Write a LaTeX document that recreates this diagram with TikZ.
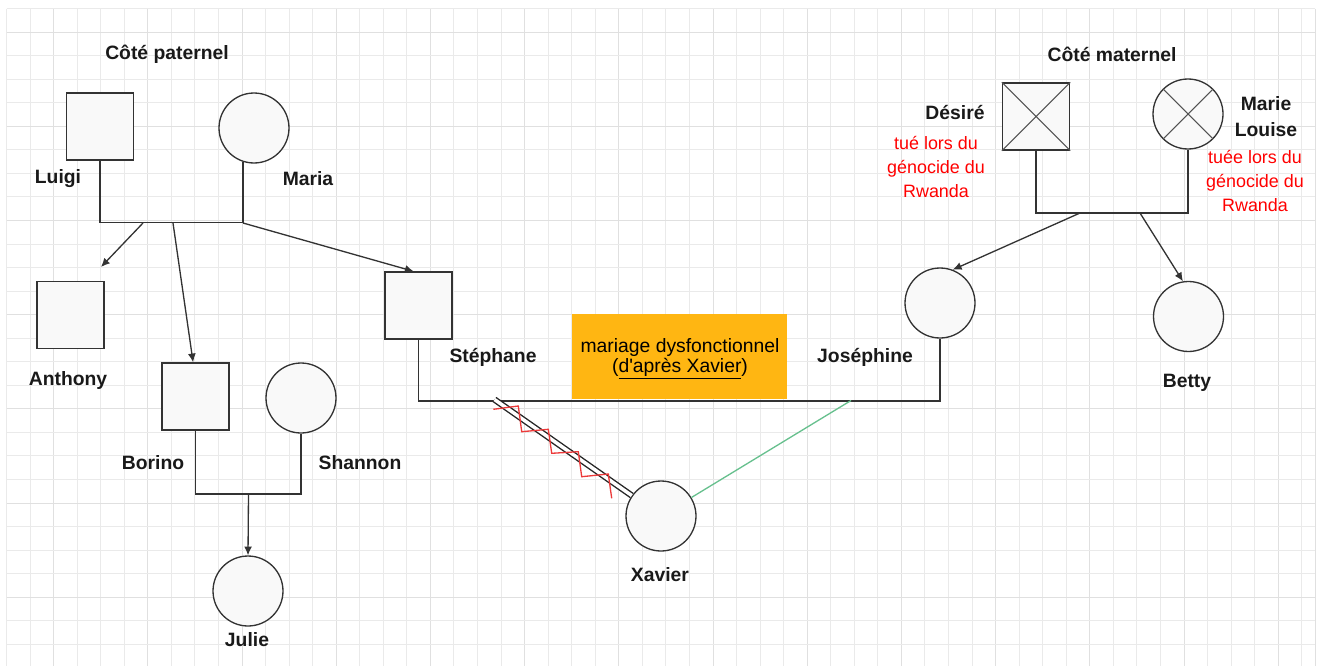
\documentclass[tikz,border=0pt]{standalone}
\usepackage{fontspec}
\setmainfont{Liberation Sans}
\usetikzlibrary{arrows.meta}
\definecolor{boxorange}{RGB}{255,182,18}
\definecolor{linkgreen}{RGB}{103,192,142}
\definecolor{linkred}{RGB}{236,58,58}
\definecolor{gridminor}{RGB}{234,234,234}
\definecolor{gridmajor}{RGB}{224,224,224}
\definecolor{shapefill}{RGB}{249,249,249}
\definecolor{inkgray}{RGB}{51,51,51}

\begin{document}
\begin{tikzpicture}[x=0.02cm, y=-0.02cm,
		male/.style={draw=inkgray, line width=0.75pt, fill=shapefill, minimum size=1.34cm, inner sep=0pt},
		female/.style={circle, draw=inkgray, line width=0.75pt, fill=shapefill, minimum size=1.4cm, inner sep=0pt},
		lbl/.style={font=\fontsize{11}{14.8}\selectfont\bfseries, text=black!90, align=center},
		redtxt/.style={font=\fontsize{10.2}{13.4}\selectfont, text=red, align=center},
		link/.style={draw=inkgray, line width=0.75pt},
		descent/.style={link, -{Latex[length=5pt,width=4.5pt]}},
		deceased/.style={draw=inkgray!85, line width=0.6pt}]

			\useasboundingbox (0,0) rectangle (1328,666);

			% Background grid
			\foreach \k in {0,...,55}{
				\pgfmathtruncatemacro\r{mod(\k,4)}
				\ifnum\r=2 \def\gc{gridmajor}\else\def\gc{gridminor}\fi
				\draw[\gc, line width=0.55pt] (6.5+23.55*\k,8.5) -- (6.5+23.55*\k,666);
			}
			\foreach \k in {0,...,28}{
				\pgfmathtruncatemacro\r{mod(\k,4)}
				\ifnum\r=1 \def\gc{gridmajor}\else\def\gc{gridminor}\fi
				\draw[\gc, line width=0.55pt] (6.5,8.5+23.55*\k) -- (1315,8.5+23.55*\k);
			}
			\draw[gridmajor, line width=0.55pt] (1315,8.5) -- (1315,666);

			% Define nodes
			\node[male] (luigi) at (100,126.5) {};
			\node[female] (maria) at (254,128) {};
			\node[male] (anthony) at (70.5,315) {};
			\node[male] (borino) at (195.5,396.5) {};
			\node[female] (shannon) at (301,398) {};
			\node[female] (julie) at (248,591) {};
			\node[male] (stephane) at (418.5,305.5) {};
			\node[female] (josephine) at (940,303) {};
			\node[female] (xavier) at (661,516) {};
			\node[male] (desire) at (1036,116.5) {};
			\node[female] (marielouise) at (1188,114) {};
			\node[female] (betty) at (1188.5,316.5) {};

			\node[fill=boxorange, minimum width=4.3cm, minimum height=1.7cm] (dysf) at (679.5,356.5) {};
			\node[align=center, font=\fontsize{11}{11.4}\selectfont] (dysftxt) at (680,359)
				{mariage dysfonctionnel\\(\underline{d\textquotesingle après Xavier})};

			% Crosses for the deceased
			\draw[deceased] (desire.north west) -- (desire.south east) (desire.north east) -- (desire.south west);
			\draw[deceased] (marielouise.45) -- (marielouise.225) (marielouise.135) -- (marielouise.315);

			% Couples
			\coordinate (lmbar) at (170,222.5);
			\coordinate (bsbar) at (248.5,494);
			\coordinate (sjbar) at (680,401);
			\coordinate (dmbar) at (1110,213);
			\draw[link] (luigi.south) |- (lmbar) -| (maria.252);
			\draw[link] (borino.south) |- (bsbar) -| (shannon.south);
			\draw[link, line width=1pt] (stephane.south) |- (sjbar) -| (josephine.south);
			\draw[link] (desire.south) |- (dmbar) -| (marielouise.south);

			% Children
			\coordinate (lm1) at (143,223);
			\coordinate (lm2) at (173,223);
			\coordinate (lm3) at (243,223);
			\coordinate (anthonyin) at (101,267);
			\coordinate (dm1) at (1080,213);
			\coordinate (dm2) at (1140,213);
			\draw[descent] (lm1) -- (anthonyin);
			\draw[descent] (lm2) -- (borino.94);
			\draw[descent] (lm3) -- (stephane.98);
			\draw[descent] (bsbar) -- (julie.north);
			\draw[descent] (dm1) -- (josephine.69);
			\draw[descent] (dm2) -- (betty.99);

			% Links to Xavier
			\coordinate (sxav) at (494.5,399.5);
			\coordinate (jxav) at (851,400.5);
			\draw[black!85, line width=0.8pt, double=white, double distance=0.07cm] (sxav) -- (xavier);
			\draw[linkred, line width=0.75pt, line join=miter] (493.3,409.3) -- (518.3,406) -- (521.7,431.7)
				-- (548.3,429.3) -- (551.7,453.3) -- (578.3,451.7) -- (581.7,476.7) -- (608.3,474) -- (611.7,498.3);
			\draw[linkgreen, line width=0.75pt] (jxav) -- (xavier);

			% Labels
			\node[lbl] (tpat) at (167,54) {Côté paternel};
			\node[lbl] (tmat) at (1112,54) {Côté maternel};
			\node[lbl] (tluigi) at (58,179) {Luigi};
			\node[lbl] (tmaria) at (308,179) {Maria};
			\node[lbl] (tanthony) at (68,380) {Anthony};
			\node[lbl] (tborino) at (153,463) {Borino};
			\node[lbl] (tshannon) at (360,463) {Shannon};
			\node[lbl] (tjulie) at (247,640) {Julie};
			\node[lbl] (tstephane) at (493,357) {Stéphane};
			\node[lbl] (tjosephine) at (865,357) {Joséphine};
			\node[lbl] (txavier) at (660,575) {Xavier};
			\node[lbl] (tdesire) at (955,113) {Désiré};
			\node[lbl] (tmarielouise) at (1266,117) {Marie\\Louise};
			\node[lbl] (tbetty) at (1187,383) {Betty};
			\node[redtxt] (rdesire) at (936,167) {tué lors du\\génocide du\\Rwanda};
			\node[redtxt] (rmarielouise) at (1255,181) {tuée lors du\\génocide du\\Rwanda};

		\end{tikzpicture}
\end{document}
